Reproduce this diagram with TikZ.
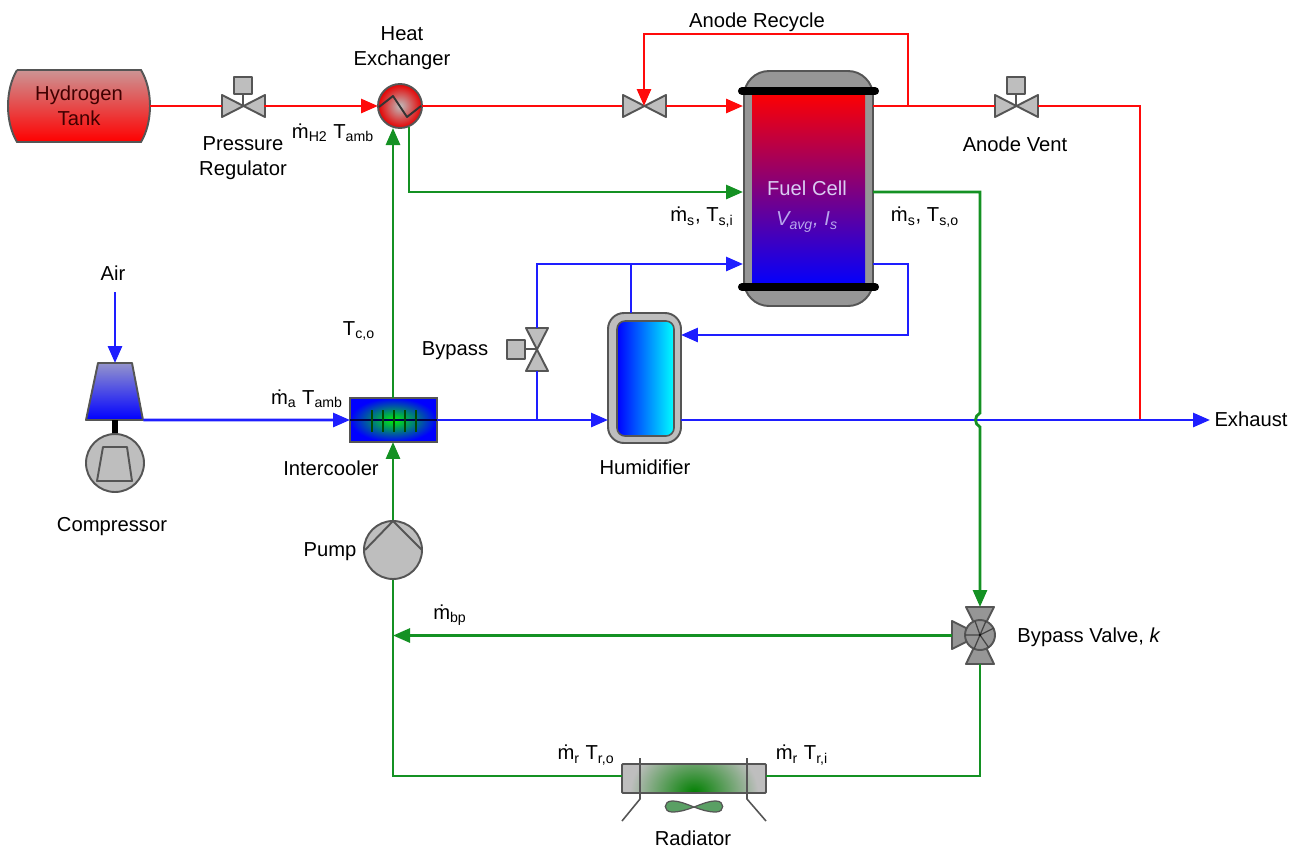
\documentclass[tikz,border=0pt]{standalone}
\usepackage{fontspec}
\setmainfont{Liberation Sans}
\usetikzlibrary{arrows.meta}
\tikzset{>={Triangle[length=0.34cm,width=0.28cm]}}
\definecolor{pipegreen}{RGB}{20,145,35}
\definecolor{pipeblue}{RGB}{30,30,255}
\definecolor{pipered}{RGB}{255,10,10}
\definecolor{partgray}{RGB}{190,190,190}
\definecolor{partdark}{RGB}{150,150,150}
\definecolor{edgegray}{RGB}{85,85,85}
\definecolor{fangreen}{RGB}{90,160,100}
\tikzset{
  lbl/.style={font=\fontsize{11.5}{14.2}\selectfont, align=center, inner sep=0pt},
  box/.style={inner sep=0pt, outer sep=0pt, minimum width=#1},
  part/.style={fill=partgray, draw=edgegray, line width=1.1, line join=round},
  redpipe/.style={color=pipered, line width=1.6},
  bluepipe/.style={color=pipeblue, line width=1.6},
  greenpipe/.style={color=pipegreen, line width=1.6}
}
\newcommand{\mdot}{\.m}
\newcommand{\sbs}[1]{\textsubscript{#1}}
% valve lying on a horizontal pipe
\newcommand{\valveh}[2]{
  \draw[part] (#1-21,#2-11)--(#1+22,#2+11)--(#1+22,#2-11)--(#1-21,#2+11)--cycle;
}
% same, with its square actuator on top
\newcommand{\valvetop}[2]{
  \draw[edgegray, line width=1.1] (#1,#2)--(#1,#2-12);
  \draw[part] (#1-9,#2-29) rectangle (#1+9,#2-12);
  \valveh{#1}{#2}
}

\begin{document}
\begin{tikzpicture}[x=0.02cm,y=-0.02cm]
\useasboundingbox (0,0) rectangle (1299,849);

% hydrogen tank
\draw[draw=edgegray, line width=1.1, top color=red!22!partgray, bottom color=red]
  (17,70)--(141,70) .. controls (153,90) and (153,122) .. (141,142)
  --(17,142) .. controls (5,122) and (5,90) .. (17,70);
\node[box=2.84cm, minimum height=1.44cm, lbl, text=black!75!red] (tank) at (79,106) {Hydrogen\\Tank};

% valves
\node[box=0.86cm, minimum height=0.44cm] (regulator) at (243,106) {};
\valvetop{243}{106}
\node[box=0.88cm, minimum height=0.44cm] (recyclevalve) at (644,106) {};
\valveh{644}{106}
\node[box=0.86cm, minimum height=0.44cm] (ventvalve) at (1016,106) {};
\valvetop{1016}{106}

% heat exchanger
\node[circle, minimum size=0.88cm, inner sep=0pt, outer sep=0pt, draw=edgegray, line width=1.1,
  inner color=partgray, outer color=red!90!black] (exchanger) at (400,106) {};
\draw[edgegray!60!black, line width=1.1, line join=round] (379,107)--(393,96)--(407,117)--(421,106);

% fuel cell
\node[box=2.6cm, minimum height=4.72cm] (fuelcell) at (808,188.5) {};
\draw[draw=edgegray, line width=1.1, fill=partdark, rounded corners=0.5cm]
  (744,306) rectangle (873,71);
\shade[top color=red, bottom color=blue] (752,92) rectangle (865,287);
\draw[line width=4.6, line cap=round] (742,91)--(875,91);
\draw[line width=4.6, line cap=round] (742,287)--(875,287);
\node[lbl, text=red!25!blue!20!white] (fclabel) at (807,188) {Fuel Cell};
\node[lbl, text=red!20!blue!35!white] (fcvalues) at (807,222) {\textit{V\sbs{avg}, I\sbs{s}}};

% compressor
\node[box=1.14cm, minimum height=1.14cm] (compressor) at (115,391.5) {};
\draw[draw=edgegray, line width=1.1, line join=round, top color=blue!22!partgray, bottom color=blue]
  (98,363)--(132,363)--(143,420)--(86,420)--cycle;
\draw[line width=3.6] (115,420)--(115,437);
\node[circle, minimum size=1.16cm, inner sep=0pt, part] (turbine) at (115,463) {};
\draw[edgegray, line width=1.1, line join=round] (103,447)--(127,447)--(132,481)--(97,481)--cycle;

% intercooler
\node[box=1.74cm, minimum height=0.88cm, draw=edgegray, line width=0.9, inner color=green!95!black, outer color=blue] (intercooler) at (393.5,420) {};
\draw[black!70!blue, line width=0.9] (350,420)--(437,420);
\foreach \xtick in {372,383,394,405,416}
  \draw[black!70!green, line width=1.0] (\xtick,410)--(\xtick,432);

% pump
\node[circle, minimum size=1.16cm, inner sep=0pt, part] (pump) at (393,550) {};
\draw[edgegray, line width=1.1, line join=round] (365,550)--(393,521)--(422,550);

% humidifier
\node[box=1.46cm, minimum height=2.6cm] (humidifier) at (644.5,378) {};
\draw[part, rounded corners=0.32cm] (608,443) rectangle (681,313);
\draw[draw=edgegray, line width=0.9, left color=blue, right color=cyan, rounded corners=0.16cm] (617,436) rectangle (674,321);

% air bypass valve
\node[box=0.42cm, minimum height=0.86cm] (airbypass) at (537,349.5) {};
\draw[edgegray, line width=1.1] (537,349)--(525,349);
\draw[part] (507,340) rectangle (525,359);
\draw[part] (526,328)--(548,328)--(526,371)--(548,371)--cycle;

% bypass valve
\node[box=1.12cm, minimum height=1.14cm] (coolvalve) at (980,635.5) {};
\draw[draw=edgegray, line width=1.1, fill=partdark, line join=round]
  (966,607)--(994,607)--(980,635)--(994,664)--(966,664)--(980,635)--cycle;
\draw[draw=edgegray, line width=1.1, fill=partdark, line join=round] (952,621)--(980,635)--(952,649)--cycle;
\draw[edgegray, line width=1.1, fill=partdark] (980,635) circle (15);
\draw[edgegray!80!black, line width=0.7] (986,621)--(974,649) (965,635)--(980,635) (975,621)--(980,635)--(994,628) (980,635)--(989,648);
\fill (980,635) circle (1.2);

% radiator
\node[box=2.88cm, minimum height=0.58cm] (radiator) at (694,778.5) {};
\begin{scope}
\clip (622,764) rectangle (766,793);
\fill[partgray] (622,764) rectangle (766,793);
\shade[inner color=green!50!black, outer color=partgray] (630,741) rectangle (758,845);
\end{scope}
\draw[edgegray, line width=1.1, rounded corners=0.02cm] (622,764) rectangle (766,793);
\draw[edgegray, line width=0.9] (640,758)--(640,799)--(622,821);
\draw[edgegray, line width=0.9] (747,758)--(747,799)--(766,821);
\draw[draw=edgegray, line width=0.7, fill=fangreen]
  (694,807) .. controls (686,804) and (680,801) .. (672,801)
  .. controls (663,801) and (663,812) .. (672,812) .. controls (680,812) and (686,810) .. (694,807)
  .. controls (702,810) and (708,812) .. (716,812)
  .. controls (725,812) and (725,801) .. (716,801) .. controls (708,801) and (702,804) .. (694,807);

% hydrogen and anode lines
\coordinate (recycletap) at (908,106);
\coordinate (ventcorner) at (1140,106);
\coordinate (ventjoin) at (1140,420);
\draw[redpipe] (tank.east |- regulator)--(regulator.west);
\draw[redpipe, ->] (regulator.east)--(exchanger.west);
\draw[redpipe] (exchanger.east)--(recyclevalve.west);
\draw[redpipe, ->] (recyclevalve.east)--(recyclevalve.east -| fuelcell.west);
\draw[redpipe] (regulator -| fuelcell.east)--(ventvalve.west);
\draw[redpipe] (ventvalve.east)--(ventcorner)--(ventjoin);
\draw[redpipe, ->] (recycletap)--(908,34)--(644,34)--(recyclevalve.center);

% air lines
\coordinate (airin) at (115,292);
\coordinate (bypasstee) at (537,420);
\coordinate (airfeed) at (743,264);
\coordinate (humidtee) at (631,264);
\coordinate (airreturn) at (873,264);
\coordinate (exhaustend) at (1210,420);
\draw[bluepipe, ->] (airin)--(compressor.north);
\draw[bluepipe, ->] (compressor.south east)--(intercooler.west);
\draw[bluepipe, ->] (intercooler.east)--(humidifier.west |- intercooler.east);
\draw[bluepipe] (bypasstee)--(airbypass.south);
\draw[bluepipe, ->] (airbypass.north)--(537,264)--(airfeed);
\draw[bluepipe] (humidtee)--(humidifier.north -| humidtee);
\draw[bluepipe, ->] (airreturn)--(908,264)--(908,335)--(humidifier.east |- 0,335);
\draw[bluepipe, ->] (humidifier.east |- intercooler.east)--(exhaustend);

% coolant lines
\coordinate (stackin) at (743,192);
\coordinate (stackout) at (873,192);
\coordinate (coolantjoin) at (393,635.5);
\draw[greenpipe, ->] (intercooler.north -| pump)--(393,128);
\draw[greenpipe, ->] (pump.north)--(intercooler.south -| pump);
\draw[greenpipe, ->] (409,127)--(409,192)--(stackin);
\draw[greenpipe, ->] (stackout)--(980,192)--(980,413)
  .. controls (974,416) and (974,424) .. (980,427)--(coolvalve.north);
\draw[greenpipe, ->] (coolvalve.west)--(coolantjoin);
\draw[greenpipe] (coolvalve.south)--(980,776)--(radiator.east |- 0,776);
\draw[greenpipe] (radiator.west |- 0,776)--(393,776)--(pump.south);

% labels
\node[lbl] (exlabel) at (402,48) {Heat\\Exchanger};
\node[lbl] (reglabel) at (243,158) {Pressure\\Regulator};
\node[lbl] (h2label) at (333,133) {\mdot\sbs{H2} T\sbs{amb}};
\node[lbl] (recyclelabel) at (757,22) {Anode Recycle};
\node[lbl] (ventlabel) at (1015,144) {Anode Vent};
\node[lbl] (silabel) at (702,217) {\mdot\sbs{s}, T\sbs{s,i}};
\node[lbl] (solabel) at (925,217) {\mdot\sbs{s}, T\sbs{s,o}};
\node[lbl] (airlabel) at (113,273) {Air};
\node[lbl] (tcolabel) at (359,331) {T\sbs{c,o}};
\node[lbl] (bypasslabel) at (455,351) {Bypass};
\node[lbl] (malabel) at (307,399) {\mdot\sbs{a} T\sbs{amb}};
\node[lbl] (iclabel) at (331,468) {Intercooler};
\node[lbl] (humlabel) at (645,467) {Humidifier};
\node[lbl] (complabel) at (112,527) {Compressor};
\node[lbl] (pumplabel) at (330,552) {Pump};
\node[lbl] (bplabel) at (450,615) {\mdot\sbs{bp}};
\node[lbl] (valvelabel) at (1089,637) {Bypass Valve, \textit{k}};
\node[lbl] (rolabel) at (586,755) {\mdot\sbs{r} T\sbs{r,o}};
\node[lbl] (rilabel) at (802,755) {\mdot\sbs{r} T\sbs{r,i}};
\node[lbl] (radlabel) at (693,838) {Radiator};
\node[lbl] (exhlabel) at (1251,419) {Exhaust};

\end{tikzpicture}
\end{document}
